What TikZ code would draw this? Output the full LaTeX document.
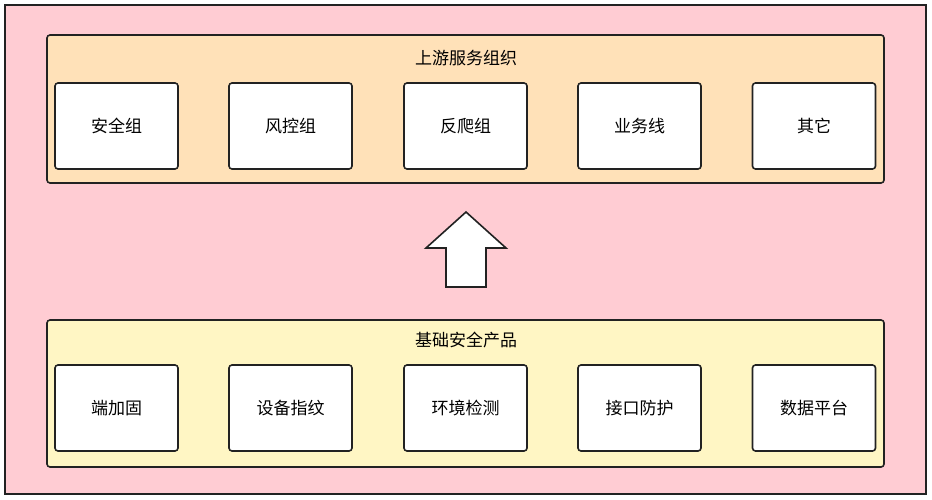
\documentclass[tikz,border=0pt]{standalone}
\usepackage{fontspec}
\setmainfont{Noto Sans CJK SC}
\definecolor{bgpink}{HTML}{FFCCD3}
\definecolor{upfill}{HTML}{FFE1B8}
\definecolor{downfill}{HTML}{FFF6C4}
\definecolor{edge}{HTML}{222222}
\tikzset{
  group/.style={draw=edge, line width=1.6pt, rounded corners=3pt},
  item/.style={draw=edge, line width=1.6pt, fill=white, rounded corners=3pt, minimum width=123pt, minimum height=86pt, font=\fontsize{17}{20}\selectfont},
  title/.style={font=\fontsize{17}{20}\selectfont}
}
\begin{document}
\begin{tikzpicture}[x=1pt, y=-1pt]
	\useasboundingbox (0,0) rectangle (932,500);
	% background
	\draw[line width=1.6pt, draw=edge, fill=bgpink] (5,5) rectangle (926,494);

	% groups
	\draw[group, fill=upfill] (47,35) rectangle (884,183);
	\node[title] (uptitle) at (466,58) {上游服务组织};
	\draw[group, fill=downfill] (47,320) rectangle (884,467);
	\node[title] (downtitle) at (466,340) {基础安全产品};

	% boxes
	\foreach \x/\t [count=\i] in {116.5/安全组, 290.5/风控组, 465.5/反爬组, 639.5/业务线, 814/其它}
		\node[item] (up\i) at (\x,126) {\t};
	\foreach \x/\t [count=\i] in {116.5/端加固, 290.5/设备指纹, 465.5/环境检测, 639.5/接口防护, 814/数据平台}
		\node[item] (down\i) at (\x,408) {\t};

	% arrow
	\draw[line width=1.6pt, draw=edge, fill=white] (466,212) -- (506,248) -- (486,248) -- (486,287) -- (446,287) -- (446,248) -- (426,248) -- cycle;
\end{tikzpicture}
\end{document}
